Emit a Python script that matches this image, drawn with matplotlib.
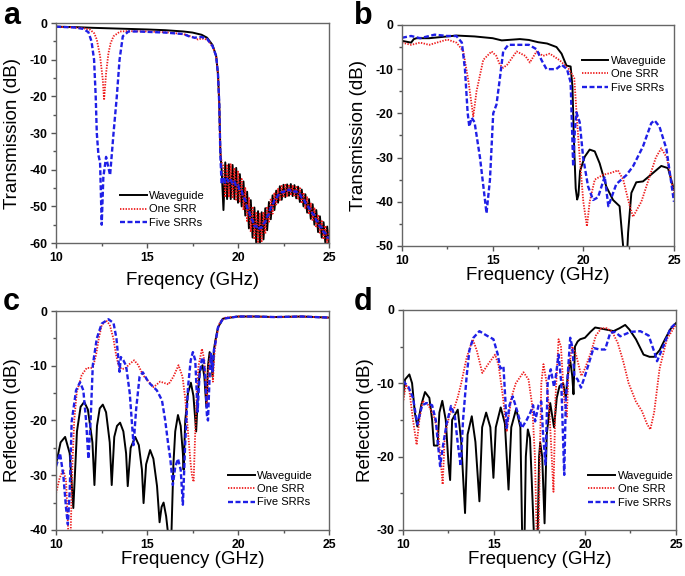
import matplotlib
matplotlib.use("Agg")
import matplotlib.pyplot as plt
from matplotlib.ticker import MultipleLocator

plt.rcParams["font.family"] = ["Liberation Sans", "DejaVu Sans"]
plt.rcParams["axes.unicode_minus"] = False
plt.rcParams["lines.scale_dashes"] = False

labels = ["Waveguide", "One SRR", "Five SRRs"]

# -----------------------------
# (a) transmission, simulated
# -----------------------------
a_wg_f = [10, 11, 12, 13, 14, 15, 16, 17, 17.5, 18, 18.3, 18.6, 18.8, 18.9, 18.97, 19.03, 19.1,
          19.2, 19.3, 19.4, 19.5, 19.6, 19.7, 19.8, 19.9, 20.0, 20.1, 20.2, 20.3, 20.4, 20.5, 20.6,
          20.7, 20.8, 20.9, 21.0, 21.1, 21.2, 21.3, 21.4, 21.5, 21.6, 21.7, 21.8, 21.9, 22.0, 22.1,
          22.2, 22.3, 22.4, 22.5, 22.6, 22.7, 22.8, 22.9, 23.0, 23.1, 23.2, 23.3, 23.4, 23.5, 23.6,
          23.7, 23.8, 23.9, 24.0, 24.1, 24.2, 24.3, 24.4, 24.5, 24.6, 24.7, 24.8, 24.9, 25.0]
a_wg_db = [-1.0, -1.1, -1.3, -1.45, -1.6, -1.75, -1.95, -2.3, -2.6, -3.2, -4, -6, -9, -14, -22, -35, -40,
           -51, -38, -48, -38.5, -48, -38.7, -48, -39.5, -49, -41.2, -50, -43.2, -52.5, -46, -56,
           -48.3, -58.5, -50.3, -60, -51.3, -60.5, -51.6, -59, -50.5, -56.5, -48.8, -53.5, -47, -51, -45.7,
           -49, -44.5, -48.2, -44.1, -47.5, -44, -47.1, -43.9, -47.2, -44.2, -47.8, -44.6, -48.8, -45.4, -50,
           -46.7, -51.7, -48, -53.4, -49.4, -55, -51, -57, -52.7, -58.5, -54.3, -60, -55.5, -60.5]

a_one_f = [10, 11, 11.5, 11.87, 12.1, 12.24, 12.42, 12.57, 12.64, 12.75, 12.88, 13.0, 13.16, 13.52, 14, 15,
           16, 17, 17.5, 17.8, 18.0, 18.3, 18.6, 18.8, 18.9, 18.97, 19.03, 19.1,
           19.2, 19.3, 19.4, 19.5, 19.6, 19.7, 19.8, 19.9, 20.0, 20.1, 20.2, 20.3, 20.4, 20.5, 20.6,
           20.7, 20.8, 20.9, 21.0, 21.1, 21.2, 21.3, 21.4, 21.5, 21.6, 21.7, 21.8, 21.9, 22.0, 22.1,
           22.2, 22.3, 22.4, 22.5, 22.6, 22.7, 22.8, 22.9, 23.0, 23.1, 23.2, 23.3, 23.4, 23.5, 23.6,
           23.7, 23.8, 23.9, 24.0, 24.1, 24.2, 24.3, 24.4, 24.5, 24.6, 24.7, 24.8, 24.9, 25.0]
a_one_db = [-1.0, -1.2, -1.4, -1.8, -2.8, -4.5, -9, -15.5, -21, -13.7, -8.2, -5.5, -3.6, -2.3, -2.2, -2.3,
            -2.5, -3, -3.8, -4.5, -4.2, -4.5, -6.3, -9, -14, -22, -35, -38,
            -39, -47.5, -38.5, -47.5, -38.5, -47.5, -39.5, -48.5, -40.5, -49, -42.5, -51, -45, -54, -47.5,
            -57, -50, -59, -51.5, -60, -52, -59.5, -51.5, -57.5, -50, -54.5, -47.8, -52, -46.2, -49.5,
            -45.2, -48.3, -44.4, -47.6, -44.1, -47.2, -44, -47, -44.2, -47.4, -44.4, -48.2, -45, -49.2, -46.2,
            -50.5, -47.5, -52.2, -49, -54, -50.3, -55.8, -52.2, -57.5, -53.7, -59, -55.2, -60.3, -56.5]

a_five_f = [10, 11, 11.5, 11.78, 11.95, 12.09, 12.18, 12.24, 12.33, 12.42, 12.51, 12.6, 12.75, 12.97, 13.16,
            13.34, 13.49, 13.67, 13.98, 14.5, 15, 16, 17, 17.3, 17.6, 18.0, 18.3, 18.6, 18.8, 18.9, 18.97,
            19.03, 19.1, 19.2, 19.3, 19.4, 19.5, 19.6, 19.7, 19.8, 19.9, 20.0, 20.1, 20.2, 20.3, 20.4, 20.5,
            20.6, 20.7, 20.8, 20.9, 21.0, 21.1, 21.2, 21.3, 21.4, 21.5, 21.6, 21.7, 21.8, 21.9, 22.0, 22.1,
            22.2, 22.3, 22.4, 22.5, 22.6, 22.7, 22.8, 22.9, 23.0, 23.1, 23.2, 23.3, 23.4, 23.5, 23.6, 23.7,
            23.8, 23.9, 24.0, 24.1, 24.2, 24.3, 24.4, 24.5, 24.6, 24.7, 24.8, 24.9, 25.0]
a_five_db = [-1.0, -1.2, -1.6, -2.5, -5, -10, -20, -30, -36, -38, -55, -42, -36.5, -41.5, -30,
             -20, -10, -3.6, -2.3, -2.3, -2.4, -2.6, -3, -3.6, -4, -3.8, -4.3, -6.3, -9, -14, -22,
             -36, -44, -42, -43.5, -42.5, -43.5, -42.8, -43.8, -43.2, -44.5, -44.2, -45.8, -45.8, -47.6, -48.2, -50.3,
             -51.2, -53.2, -53.8, -55.4, -55.3, -56.3, -55.8, -55.8, -54.8, -54.2, -52.8, -52, -50.3, -49.7, -48.3, -48,
             -46.9, -46.8, -46.1, -46.1, -45.6, -45.8, -45.4, -45.7, -45.5, -46, -45.9, -46.6, -46.7, -47.6, -47.9, -49,
             -49.4, -50.5, -50.9, -52, -52.4, -53.8, -54.3, -55.5, -55.8, -57, -57.3, -58.4, -58.6]

# -----------------------------
# (b) transmission, measured
# -----------------------------
b_wg_f = [10, 10.5, 10.65, 10.8, 11.5, 12, 13, 14, 15, 15.5, 16.5, 17, 17.5, 18, 18.52, 18.8, 19.07, 19.3,
          19.4, 19.48, 19.58, 19.66, 19.73, 19.82, 20.08, 20.35, 20.63, 20.9, 21.27, 21.64, 22.0, 22.19, 22.3,
          22.41, 22.47, 22.65, 22.92, 23.29, 23.84, 24.3, 24.67, 25]
b_wg_db = [-3.6, -4.0, -3.2, -3.0, -3.0, -2.8, -2.4, -2.6, -3.0, -3.5, -3.2, -3.4, -3.9, -4.2, -5.0, -6.5, -9.2, -9.4,
           -14, -26, -37, -39.5, -38.5, -33, -29.8, -28.2, -28.6, -31.3, -36.6, -39.6, -41, -49.8, -56,
           -52, -47, -38, -35.6, -35.4, -33.5, -31.9, -32.4, -37.3]

b_one_f = [10, 10.5, 11, 11.5, 12.5, 13, 13.2, 13.38, 13.65, 13.93, 14.11, 14.48, 14.94, 15.2, 15.4, 15.58, 15.8,
           16.32, 16.8, 17.05, 17.42, 17.78, 18.15, 18.7, 19.2, 19.5, 19.66, 19.8, 20.0, 20.2, 20.35, 20.63,
           21.09, 21.5, 21.91, 22.2, 22.5, 22.74, 23.2, 23.6, 24.0, 24.3, 24.6, 25]
b_one_db = [-4, -4.5, -4, -4.5, -3.3, -4, -5, -6, -12.4, -20.7, -15, -7.9, -6, -7, -9, -9.7, -9,
            -6, -7, -8.5, -6, -7, -6.5, -8, -10, -12, -22, -30, -40, -45.6, -40, -35,
            -33.9, -33.5, -32.9, -35, -40, -43.4, -40, -35, -30, -27.9, -30, -38]

b_five_f = [10, 10.5, 11, 11.8, 12.5, 13.0, 13.3, 13.47, 13.62, 13.71, 13.84, 14.0, 14.3, 14.66, 14.85, 15.03,
            15.21, 15.4, 15.58, 15.86, 16.5, 17.0, 17.42, 17.7, 17.97, 18.5, 18.8, 19.1, 19.3, 19.44, 19.53,
            19.62, 19.8, 19.99, 20.26, 20.54, 20.81, 21.18, 21.38, 21.82, 22.37, 22.74, 23.29, 23.75, 23.93,
            24.2, 24.58, 25]
b_five_db = [-2.9, -2.5, -3, -2.2, -2.5, -2.5, -4, -10, -19.9, -23, -21, -22, -30, -42.6, -35, -20,
             -18, -12, -6, -4.5, -4.5, -4.5, -5.5, -8, -10, -10, -9, -10, -13, -32, -24,
             -19.8, -22, -30, -36.5, -39.6, -39, -34.3, -41, -36, -34, -32, -27.5, -22.2, -21.6,
             -23, -28, -40]

# -----------------------------
# (c) reflection, simulated
# -----------------------------
c_wg_f = [10.0, 10.25, 10.5, 10.75, 10.95, 11.15, 11.35, 11.55, 11.75, 12.0, 12.11, 12.25, 12.4, 12.57, 12.75,
          12.95, 13.06, 13.2, 13.35, 13.52, 13.7, 13.85, 13.94, 14.1, 14.35, 14.55, 14.72, 14.81, 14.95, 15.17,
          15.35, 15.55, 15.69, 15.8, 15.91, 16.05, 16.2, 16.33, 16.45, 16.55, 16.7, 16.85, 16.97, 17.01, 17.1,
          17.25, 17.41, 17.55, 17.7, 17.8, 17.9, 18.05, 18.15, 18.26, 18.35, 18.44, 18.52, 18.6, 18.68, 18.75,
          18.9, 19.17, 20, 21, 22, 23.5, 25]
c_wg_db = [-28, -24, -23, -26, -36, -22, -17.5, -16.6, -18, -24, -31.8, -21, -17.8, -17.1, -18.5,
           -24, -31.8, -23, -21, -20.4, -22, -26, -32, -25, -23, -24.5, -29, -35.1, -28, -25.4,
           -27, -32, -38.6, -35.8, -35, -37.5, -42, -42, -28, -22, -19, -21, -26, -29, -20,
           -15, -13.1, -15.5, -22, -15, -11, -9.9, -12, -17.5, -10, -7.5, -8.5, -12, -7, -5.5,
           -3, -1.4, -1.0, -1.0, -1.1, -1.0, -1.2]

c_one_f = [10.0, 10.2, 10.4, 10.55, 10.68, 10.8, 10.9, 11.0, 11.14, 11.41, 11.69, 12.02, 12.2, 12.35, 12.51,
           12.75, 12.95, 13.15, 13.3, 13.43, 13.6, 13.8, 14.0, 14.29, 14.5, 14.8, 15.12, 15.36, 15.72, 16.18,
           16.45, 16.73, 16.95, 17.1, 17.25, 17.4, 17.47, 17.56, 17.65, 17.75, 17.83, 18.02, 18.15, 18.29,
           18.38, 18.5, 18.58, 18.62, 18.7, 18.8, 19.0, 19.3, 20, 21, 22, 23.5, 25]
c_one_db = [-33.3, -30.5, -29, -31, -41, -41, -28, -20, -14.8, -11.7, -10.4, -10.4, -8, -5, -2.6,
            -1.7, -2.5, -5, -8, -9.9, -10.6, -10.5, -9.8, -9, -9.8, -11.8, -13, -13.9, -12.9, -13.4,
            -12, -9.9, -12, -16, -22, -28, -30, -31.2, -22, -14, -10, -6.9, -9, -17,
            -10, -7.8, -9, -12.9, -8, -5, -2, -1.2, -1.0, -1.0, -1.1, -1.0, -1.2]

c_five_f = [10.0, 10.22, 10.4, 10.55, 10.65, 10.75, 10.86, 11.1, 11.32, 11.5, 11.65, 11.78, 11.9, 12.02, 12.24,
            12.51, 12.88, 13.16, 13.32, 13.49, 13.56, 13.7, 13.85, 14.05, 14.26, 14.4, 14.59, 14.77, 15.08,
            15.54, 15.82, 16.0, 16.15, 16.28, 16.42, 16.55, 16.7, 16.85, 16.97, 17.1, 17.25, 17.4, 17.52,
            17.65, 17.78, 17.88, 18.0, 18.1, 18.2, 18.29, 18.35, 18.45, 18.51, 18.6, 18.68, 18.75, 18.9,
            19.17, 20, 21, 22, 23.5, 25]
c_five_db = [-28.4, -26, -30, -36, -39, -33, -20.2, -14.5, -13, -14.5, -20, -27, -20, -9.9, -5,
             -2.3, -1.5, -2.2, -5, -11.1, -8.4, -9, -10, -15, -24.5, -18, -12, -11.2, -13,
             -14.5, -16.3, -20, -24, -27, -31.8, -28.5, -27, -29, -35.4, -24, -14, -9, -7.5,
             -9, -18.4, -12, -9, -8.5, -12, -19, -20, -11, -7.8, -11, -7, -6, -3,
             -1.4, -1.0, -1.0, -1.1, -1.0, -1.2]

# -----------------------------
# (d) reflection, measured
# -----------------------------
d_wg_f = [10.0, 10.11, 10.35, 10.5, 10.65, 10.79, 11.0, 11.21, 11.45, 11.6, 11.7, 11.9, 12.0, 12.16, 12.35,
          12.5, 12.59, 12.7, 13.01, 13.2, 13.41, 13.55, 13.78, 13.98, 14.2, 14.35, 14.57, 14.8, 14.97, 15.1,
          15.37, 15.6, 15.8, 15.95, 16.22, 16.45, 16.55, 16.68, 16.75, 16.86, 16.98, 17.12, 17.2, 17.4, 17.48,
          17.54, 17.65, 17.78, 17.9, 18.09, 18.3, 18.45, 18.6, 18.8, 18.95, 19.05, 19.19, 19.3, 19.37, 19.45,
          19.6, 19.74, 20.0, 20.3, 20.56, 21.0, 21.4, 21.57, 21.9, 22.21, 22.45, 22.8, 23.22, 23.55, 23.8,
          24.1, 24.4, 24.7, 25.0]
d_wg_db = [-12, -9.5, -8.8, -10, -14, -15.9, -13, -11.2, -12, -15, -18.5, -18.5, -14, -12.4, -15,
           -21, -23.2, -15, -13.6, -18, -27.7, -17, -14.5, -18, -26.1, -16, -14, -16, -22.9, -16,
           -13.3, -15.5, -24.5, -16, -13.5, -16, -31, -31, -20, -16.3, -17.5, -26, -31, -31, -20,
           -18.1, -20, -29.1, -17, -12.7, -16, -12, -10.4, -10, -12, -9, -6.9, -9, -11.5, -5,
           -4.3, -4, -3.8, -3, -2.4, -2.6, -2.8, -2.9, -2.5, -2.05, -2.7, -4, -6.1, -6.4, -6.4,
           -5.5, -4, -2.6, -1.8]

d_one_f = [10.0, 10.16, 10.35, 10.55, 10.75, 10.9, 11.08, 11.4, 11.7, 11.95, 12.18, 12.3, 12.59, 12.8, 13.0,
           13.2, 13.5, 13.83, 14.05, 14.36, 14.65, 15.06, 15.25, 15.5, 15.7, 15.95, 16.2, 16.62, 16.9, 17.1,
           17.25, 17.35, 17.45, 17.52, 17.6, 17.72, 17.9, 18.05, 18.27, 18.38, 18.55, 18.68, 18.85, 19.0, 19.1,
           19.3, 19.5, 19.8, 20.0, 20.3, 20.6, 20.9, 21.2, 21.5, 21.8, 22.1, 22.4, 22.8, 23.13, 23.4, 23.59,
           23.8, 24.1, 24.5, 25.0]
d_one_db = [-12.7, -10.2, -11, -15, -18.4, -15, -12.4, -13, -14.5, -17, -23.8, -17, -14, -13.5, -12,
            -10, -6.5, -4, -5.5, -8.6, -7.5, -6.1, -7.5, -12, -16.6, -12, -10, -8.5, -9.5, -13,
            -20, -31, -31, -20, -10, -7.4, -10, -14, -24.8, -12, -4, -5, -12, -14.7, -8,
            -5, -6, -9, -8, -6, -3.5, -2.5, -2.5, -3, -4.5, -7, -10, -12.5, -13.8, -15.5, -16.3,
            -14, -8, -4, -2]

d_five_f = [10.0, 10.3, 10.55, 10.79, 11.05, 11.3, 11.6, 11.8, 11.95, 12.04, 12.2, 12.4, 12.64, 12.85, 13.0,
            13.17, 13.3, 13.5, 13.65, 13.87, 14.2, 14.6, 14.97, 15.2, 15.35, 15.52, 15.62, 15.7, 15.85, 16.03,
            16.3, 16.53, 16.8, 17.0, 17.15, 17.26, 17.45, 17.6, 17.7, 17.83, 17.95, 18.12, 18.3, 18.4, 18.55,
            18.7, 18.86, 18.95, 19.05, 19.19, 19.3, 19.42, 19.6, 19.78, 20.0, 20.25, 20.47, 20.8, 21.11, 21.39,
            21.65, 21.94, 22.5, 23.04, 23.5, 23.86, 23.96, 24.3, 24.7, 25.0]
d_five_db = [-9.7, -10.5, -12, -15.6, -13, -12.7, -13, -15, -19, -21.3, -18.5, -15.5, -13.1, -14.5, -18,
             -21.3, -15, -9, -5.5, -3.8, -2.9, -3.5, -4, -6, -8, -7.7, -12, -16.1, -13, -11.8,
             -14, -16.1, -15, -14, -13, -15.2, -13, -12.5, -17, -21.1, -10, -8.1, -10.5, -9, -6.1,
             -10, -22.5, -12, -9, -3.8, -5, -9, -9.5, -10.6, -9, -7, -5.2, -5.4, -5.4, -3.1,
             -3, -3.6, -3, -2.9, -3.5, -6.1, -7, -5, -2.5, -1.8]

panels = [
    ("a", "Transmission (dB)", "Freqency (GHz)", -60, (a_wg_f, a_wg_db), (a_one_f, a_one_db), (a_five_f, a_five_db)),
    ("b", "Transmission (dB)", "Frequency (GHz)", -50, (b_wg_f, b_wg_db), (b_one_f, b_one_db), (b_five_f, b_five_db)),
    ("c", "Reflection (dB)", "Frequency (GHz)", -40, (c_wg_f, c_wg_db), (c_one_f, c_one_db), (c_five_f, c_five_db)),
    ("d", "Reflection (dB)", "Frequency (GHz)", -30, (d_wg_f, d_wg_db), (d_one_f, d_one_db), (d_five_f, d_five_db)),
]

# axes boxes in figure fraction, legend anchor in axes fraction, letter position in figure fraction
boxes = [[0.0818, 0.578, 0.3985, 0.382], [0.5869, 0.573, 0.397, 0.3837],
         [0.0818, 0.080, 0.3985, 0.380], [0.5883, 0.080, 0.3985, 0.382]]
leg_anchor = [(0.234, 0.236), (0.66, 0.86), (0.63, 0.27), (0.678, 0.268)]
letter_pos = [(0.004, 0.958), (0.517, 0.958), (0.004, 0.462), (0.517, 0.462)]
xlabel_pad = [5.5, 0, 0, 0]
ylabel_pad = [6, 6, 6, 1.5]

fig = plt.figure(figsize=(6.85, 5.76), dpi=100)

for i, (letter, ylab, xlab, ymin, wg, one, five) in enumerate(panels):
    ax = fig.add_axes(boxes[i])
    ax.plot(wg[0], wg[1], color="black", lw=1.4, label=labels[0])
    ax.plot(one[0], one[1], color="#ee1c1c", lw=1.3, ls=(0, (1.0, 1.0)), label=labels[1])
    ax.plot(five[0], five[1], color="#1f1fe6", lw=1.7, ls=(0, (3.6, 1.8)), label=labels[2])

    ax.set_xlim(10, 25)
    ax.set_ylim(ymin, 0)
    ax.xaxis.set_major_locator(MultipleLocator(5))
    ax.xaxis.set_minor_locator(MultipleLocator(2.5))
    ax.yaxis.set_major_locator(MultipleLocator(10))
    ax.yaxis.set_minor_locator(MultipleLocator(5))
    ax.tick_params(which="both", direction="out", top=False, right=False, width=1, color="#555555")
    ax.tick_params(which="major", length=3.5, pad=3, labelsize=8.8)
    ax.tick_params(which="minor", length=2)
    for t in ax.get_xticklabels() + ax.get_yticklabels():
        t.set_fontweight("bold")
    for sp in ax.spines.values():
        sp.set_color("#666666")
        sp.set_linewidth(1.0)

    ax.set_xlabel(xlab, fontsize=13.5, labelpad=xlabel_pad[i])
    ax.set_ylabel(ylab, fontsize=13.5, labelpad=ylabel_pad[i])

    ax.legend(loc="upper left", bbox_to_anchor=leg_anchor[i], frameon=False, fontsize=8,
              handlelength=2.4, handletextpad=0.25, labelspacing=0.3, borderpad=0, borderaxespad=0)

    fig.text(letter_pos[i][0], letter_pos[i][1], letter, fontsize=22, fontweight="bold", va="baseline")

fig.savefig("out.png", dpi=100)
